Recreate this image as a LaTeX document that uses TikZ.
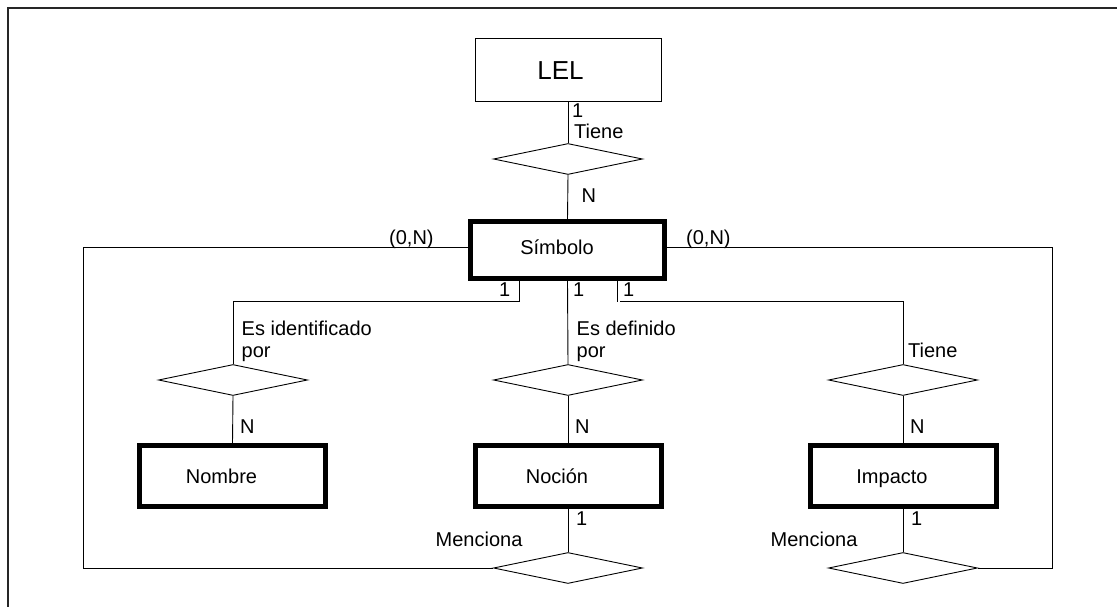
\documentclass[tikz,border=0pt]{standalone}
\usepackage{fontspec}
\setmainfont{Liberation Sans}
\usetikzlibrary{shapes.geometric}
\begin{document}
\begin{tikzpicture}[x=1pt,y=-1pt,
  lab/.style={inner sep=0pt, font=\fontsize{20}{22.5}\selectfont},
  elab/.style={lab, text height=14.3pt, text depth=0pt},
  ent/.style={draw, line width=5pt, minimum width=186pt, minimum height=61pt, inner sep=0pt},
  rel/.style={draw, diamond, line width=0.9pt, minimum width=149pt, minimum height=31pt, inner sep=0pt},
  conn/.style={line width=0.9pt},
  frameline/.style={line width=1.6pt, draw=black!85}
]
\useasboundingbox (0,0) rectangle (1117,607);
\draw[frameline] (8,607) -- (8,8) -- (1117,8);

% entities
\node[draw, line width=1pt, minimum width=186pt, minimum height=63pt, inner sep=0pt,
      label={[inner sep=0pt, font=\fontsize{26}{30}\selectfont, text height=18.6pt, text depth=0pt, xshift=-7.5pt]center:LEL}] (lel) at (568,70.5) {};
\node[ent, minimum width=194pt, minimum height=57pt,
      label={[elab, xshift=-10.5pt, yshift=3pt]center:Símbolo}] (simbolo) at (567.5,250) {};
\node[ent, label={[elab, xshift=-11pt]center:Nombre}] (nombre) at (232.5,476) {};
\node[ent, label={[elab, xshift=-11pt]center:Noción}] (nocion) at (568,476) {};
\node[ent, label={[elab, xshift=-11pt]center:Impacto}] (impacto) at (903,476) {};

% relationships
\node[rel] (d0) at (568,159) {};
\node[rel] (dl) at (233,380) {};
\node[rel] (dm) at (568,380) {};
\node[rel] (dr) at (903,380) {};
\node[rel] (bm) at (568,568) {};
\node[rel] (br) at (903,568) {};

\coordinate (lc) at (83,0);
\coordinate (rc) at (1052,0);

% connectors
\draw[conn] (lel.south) -- (d0.north);
\draw[conn] (d0.south) -- (simbolo.north);
\draw[conn] ([xshift=-48.5pt]simbolo.south) -- ++(0,20.5) -| (dl.north);
\draw[conn] (simbolo.south) -- (dm.north);
\draw[conn] ([xshift=49.5pt]simbolo.south) -- ++(0,20.5);
\draw[conn] ([xshift=52.5pt]simbolo.south) ++(0,20.5) -| (dr.north);
\draw[conn] (dl.south) -- (nombre.north);
\draw[conn] (dm.south) -- (nocion.north);
\draw[conn] (dr.south) -- (impacto.north);
\draw[conn] (nocion.south) -- (bm.north);
\draw[conn] (impacto.south) -- (br.north);
\draw[conn] ([yshift=3pt]simbolo.west) -| (lc |- bm.west) -- (bm.west);
\draw[conn] ([yshift=3pt]simbolo.east) -| (rc |- br.east) -- (br.east);

% labels
\node[lab, anchor=base west] (l1) at (572,118) {1};
\node[lab, anchor=base west] (l2) at (574,139) {Tiene};
\node[lab, anchor=base west] (l3) at (581.5,202) {N};
\node[lab, anchor=base west] (l4) at (389,244) {(0,N)};
\node[lab, anchor=base west] (l5) at (686,244) {(0,N)};
\node[lab, anchor=base west] (l6) at (499,296) {1};
\node[lab, anchor=base west] (l7) at (573,296) {1};
\node[lab, anchor=base west] (l8) at (623,296) {1};
\node[lab, anchor=north west, align=left] (l9) at (241.5,320.5) {Es identificado\\por};
\node[lab, anchor=north west, align=left] (l10) at (576.5,320.5) {Es definido\\por};
\node[lab, anchor=base west] (l11) at (908,357) {Tiene};
\node[lab, anchor=base west] (l12) at (240,433) {N};
\node[lab, anchor=base west] (l13) at (575,433) {N};
\node[lab, anchor=base west] (l14) at (910,433) {N};
\node[lab, anchor=base west] (l15) at (576,525) {1};
\node[lab, anchor=base west] (l16) at (911,525) {1};
\node[lab, anchor=base west] (l17) at (435.5,546) {Menciona};
\node[lab, anchor=base west] (l18) at (770.5,546) {Menciona};
\end{tikzpicture}
\end{document}
